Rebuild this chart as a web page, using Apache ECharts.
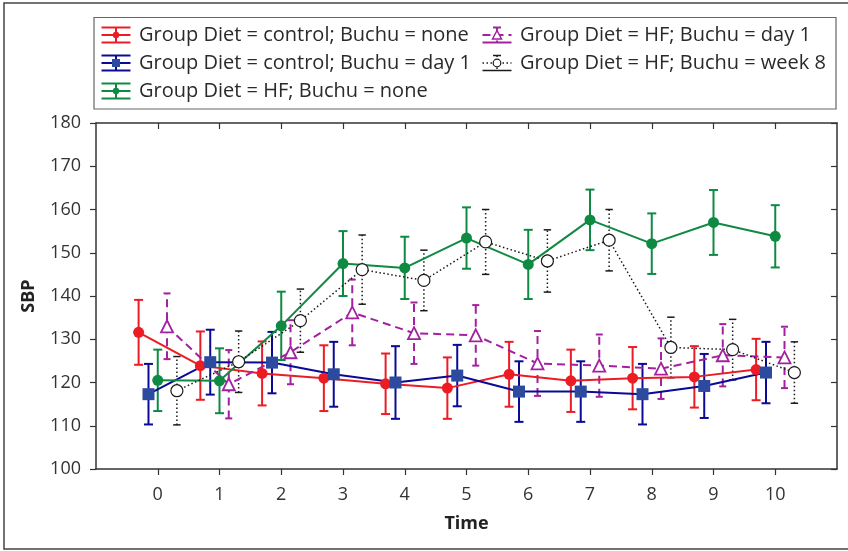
<!DOCTYPE html>
<html>
<head>
<meta charset="utf-8">
<script src="https://cdn.jsdelivr.net/npm/echarts@6/dist/echarts.min.js"></script>
<style>
html,body{margin:0;padding:0;background:#fff;}
#chart{width:848px;height:551px;}
</style>
</head>
<body>
<div id="chart"></div>
<script>
// ---------- DATA ----------
var times = [0, 1, 2, 3, 4, 5, 6, 7, 8, 9, 10];
var xTickLabels = [0, 1, 2, 3, 4, 5, 6, 7, 8, 9, 10];
var seriesNames = [
  'Group Diet = control; Buchu = none',
  'Group Diet = control; Buchu = day 1',
  'Group Diet = HF; Buchu = none',
  'Group Diet = HF; Buchu = day 1',
  'Group Diet = HF; Buchu = week 8'
];
var ctrlNoneMean  = [131.6, 123.9, 122.1, 121.0, 119.7, 118.7, 121.9, 120.4, 121.0, 121.3, 123.0];
var ctrlNoneSE    = [7.5, 7.9, 7.4, 7.6, 7.0, 7.1, 7.5, 7.2, 7.2, 7.1, 7.1];
var ctrlDay1Mean  = [117.3, 124.7, 124.6, 121.9, 120.0, 121.6, 117.9, 117.9, 117.3, 119.2, 122.3];
var ctrlDay1SE    = [7.0, 7.5, 7.1, 7.5, 8.4, 7.1, 7.0, 7.0, 7.0, 7.4, 7.1];
var hfNoneMean    = [120.5, 120.4, 133.1, 147.5, 146.5, 153.4, 147.3, 157.6, 152.1, 157.0, 153.8];
var hfNoneSE      = [7.1, 7.5, 7.9, 7.5, 7.2, 7.1, 8.0, 7.0, 7.0, 7.5, 7.2];
var hfDay1Mean    = [133.0, 119.6, 127.0, 136.2, 131.4, 130.9, 124.4, 123.9, 123.2, 126.3, 125.8];
var hfDay1SE      = [7.6, 7.9, 7.4, 7.6, 7.1, 7.0, 7.5, 7.2, 7.0, 7.2, 7.1];
var hfWeek8Mean   = [118.1, 124.8, 134.3, 146.1, 143.6, 152.5, 148.1, 152.9, 128.1, 127.6, 122.3];
var hfWeek8SE     = [7.9, 7.1, 7.3, 8.0, 7.0, 7.5, 7.2, 7.1, 7.0, 7.0, 7.1];

// ---------- STYLE ----------
var FONT = '"Open Sans"';
var means = [ctrlNoneMean, ctrlDay1Mean, hfNoneMean, hfDay1Mean, hfWeek8Mean];
var ses = [ctrlNoneSE, ctrlDay1SE, hfNoneSE, hfDay1SE, hfWeek8SE];
var offsets = [-0.31, -0.15, 0, 0.15, 0.31];
var styles = [
  {line:'#ec1c24', lw:2, dash:null, symbol:'circle', size:11, fill:'#ec1c24', border:'#ec1c24', bw:0, cap:4.5},
  {line:'#0a0a96', lw:2, dash:null, symbol:'rect', size:12, fill:'#2c4b9e', border:'#2c4b9e', bw:0, cap:4.5},
  {line:'#0e8a42', lw:2, dash:null, symbol:'circle', size:11, fill:'#0e8a42', border:'#0e8a42', bw:0, cap:4.5},
  {line:'#a321a0', lw:2, dash:[8,5], symbol:'triangle', size:12, fill:'#ffffff', border:'#a321a0', bw:1.8, cap:3.5},
  {line:'#1a1a1a', lw:1.5, dash:[1.5,2.5], symbol:'circle', size:12, fill:'#ffffff', border:'#1a1a1a', bw:1.2, cap:3.7}
];

var chart = echarts.init(document.getElementById('chart'), null, {renderer:'canvas'});

function makeErr(si) {
  var st = styles[si];
  var data = times.map(function (t, i) {
    return [t + offsets[si], means[si][i] - ses[si][i], means[si][i] + ses[si][i]];
  });
  return {
    type: 'custom',
    name: seriesNames[si] + ' err',
    xAxisIndex: 0, yAxisIndex: 0,
    z: 2,
    silent: true,
    data: data,
    renderItem: function (params, api) {
      var x = api.value(0);
      var lo = api.coord([x, api.value(1)]);
      var hi = api.coord([x, api.value(2)]);
      var c = st.cap;
      var ls = {stroke: st.line, lineWidth: st.lw, lineDash: st.dash};
      var cs = {stroke: st.line, lineWidth: st.lw};
      return {
        type: 'group',
        children: [
          {type:'line', shape:{x1:lo[0], y1:lo[1], x2:hi[0], y2:hi[1]}, style: ls},
          {type:'line', shape:{x1:lo[0]-c, y1:lo[1], x2:lo[0]+c, y2:lo[1]}, style: cs},
          {type:'line', shape:{x1:hi[0]-c, y1:hi[1], x2:hi[0]+c, y2:hi[1]}, style: cs}
        ]
      };
    }
  };
}

function makeLine(si) {
  var st = styles[si];
  return {
    type: 'line',
    name: seriesNames[si],
    xAxisIndex: 0, yAxisIndex: 0,
    z: 3,
    data: times.map(function (t, i) { return [t + offsets[si], means[si][i]]; }),
    symbol: st.symbol,
    symbolSize: st.size,
    showAllSymbol: true,
    lineStyle: {color: st.line, width: st.lw, type: st.dash ? st.dash : 'solid'},
    itemStyle: {color: st.fill, borderColor: st.border, borderWidth: st.bw},
    emphasis: {disabled: true},
    animation: false
  };
}

var series = [];
for (var i = 0; i < 5; i++) series.push(makeErr(i));
for (var j = 0; j < 5; j++) series.push(makeLine(j));

// legend graphics
var legendPos = [
  {x: 116, y: 35}, {x: 116, y: 63}, {x: 116, y: 91},
  {x: 497, y: 35}, {x: 497, y: 63}
];
var graphics = [
  {type:'rect', shape:{x:4, y:3, width:860, height:546}, style:{fill:'none', stroke:'#444', lineWidth:1.5}, silent:true},
  {type:'rect', shape:{x:94, y:17.5, width:742, height:91.5}, style:{fill:'#fff', stroke:'#666', lineWidth:1.2}, silent:true}
];
legendPos.forEach(function (p, si) {
  var st = styles[si];
  var w = 14.5, h = 7.5;
  var ls = {stroke: st.line, lineWidth: st.lw, lineDash: st.dash};
  var solid = {stroke: st.line, lineWidth: st.lw};
  var kids = [
    {type:'line', shape:{x1:p.x - w, y1:p.y, x2:p.x + w, y2:p.y}, style: ls},
    {type:'line', shape:{x1:p.x, y1:p.y - h, x2:p.x, y2:p.y + h}, style: st.dash ? ls : solid}
  ];
  if (!st.dash) {
    kids.push({type:'line', shape:{x1:p.x - w, y1:p.y - h, x2:p.x + w, y2:p.y - h}, style: solid});
    kids.push({type:'line', shape:{x1:p.x - w, y1:p.y + h, x2:p.x + w, y2:p.y + h}, style: solid});
  } else {
    kids.push({type:'line', shape:{x1:p.x - 4, y1:p.y - h, x2:p.x + 4, y2:p.y - h}, style: solid});
    kids.push({type:'line', shape:{x1:p.x - w, y1:p.y + h, x2:p.x + w, y2:p.y + h}, style: solid});
  }
  if (st.symbol === 'circle' && st.fill !== '#ffffff') {
    kids.push({type:'circle', shape:{cx:p.x, cy:p.y, r:3.2}, style:{fill: st.fill}});
  } else if (st.symbol === 'rect') {
    kids.push({type:'rect', shape:{x:p.x-4, y:p.y-4, width:8, height:8}, style:{fill: st.fill}});
  } else if (st.symbol === 'triangle') {
    kids.push({type:'polygon', shape:{points:[[p.x, p.y-4.5],[p.x+4.5, p.y+4],[p.x-4.5, p.y+4]]}, style:{fill:'#fff', stroke: st.border, lineWidth:1.5}});
  } else {
    kids.push({type:'circle', shape:{cx:p.x, cy:p.y, r:3.8}, style:{fill:'#fff', stroke: st.border, lineWidth:1.2}});
  }
  kids.push({type:'text', x: p.x + 23, y: p.y, style:{text: seriesNames[si], fill:'#2a2a2a', font: '20px ' + FONT, textVerticalAlign:'middle', textAlign:'left'}});
  graphics.push({type:'group', silent:true, children: kids});
});

var axisLineStyle = {color:'#333', width:1.5};
var option = {
  animation: false,
  backgroundColor: '#fff',
  grid: {left: 96, right: 11, top: 123, bottom: 82, show: false},
  xAxis: [
    {
      type:'value', min:-1, max:11, interval:1, position:'bottom',
      name:'Time', nameLocation:'middle', nameGap:46,
      nameTextStyle:{fontFamily:FONT, fontWeight:'bold', fontSize:18, color:'#222'},
      axisLine:{show:true, onZero:false, lineStyle:axisLineStyle},
      axisTick:{show:true, inside:false, length:6, lineStyle:{color:'#333', width:1.2}, customValues: xTickLabels},
      axisLabel:{show:true, fontFamily:FONT, fontSize:18, color:'#333', margin:17, customValues: xTickLabels},
      splitLine:{show:false}
    },
    {
      type:'value', min:-1, max:11, interval:1, position:'top',
      axisLine:{show:true, onZero:false, lineStyle:axisLineStyle},
      axisTick:{show:true, inside:true, length:6, lineStyle:{color:'#333', width:1.2}, customValues: xTickLabels},
      axisLabel:{show:false},
      splitLine:{show:false}
    }
  ],
  yAxis: [
    {
      type:'value', min:100, max:180, interval:10, position:'left',
      name:'SBP', nameLocation:'middle', nameGap:58, nameRotate:90,
      nameTextStyle:{fontFamily:FONT, fontWeight:'bold', fontSize:18, color:'#222'},
      axisLine:{show:true, onZero:false, lineStyle:axisLineStyle},
      axisTick:{show:true, inside:false, length:6, lineStyle:{color:'#333', width:1.2}},
      axisLabel:{show:true, fontFamily:FONT, fontSize:18, color:'#333', margin:15},
      splitLine:{show:false}
    },
    {
      type:'value', min:100, max:180, interval:10, position:'right',
      axisLine:{show:true, onZero:false, lineStyle:axisLineStyle},
      axisTick:{show:true, inside:true, length:6, lineStyle:{color:'#333', width:1.2}},
      axisLabel:{show:false},
      splitLine:{show:false}
    }
  ],
  graphic: graphics,
  series: series
};
chart.setOption(option);
</script>
</body>
</html>
